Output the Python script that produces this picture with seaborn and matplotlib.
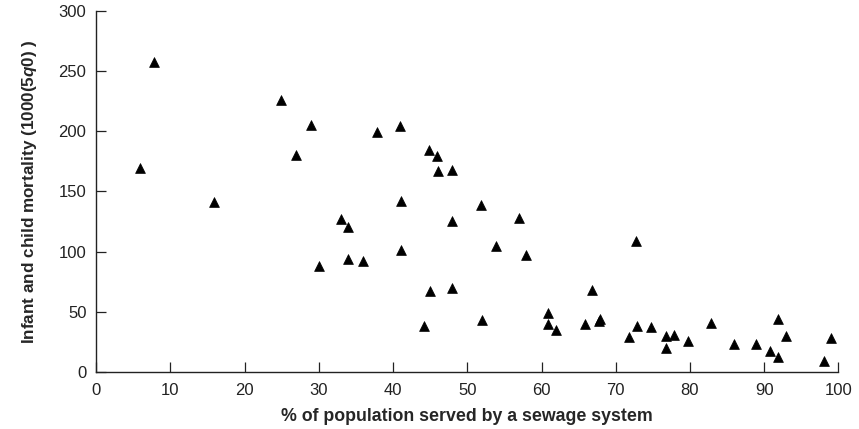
import matplotlib
matplotlib.use("Agg")
import matplotlib.pyplot as plt
import seaborn as sns
import pandas as pd

# % of population served by a sewage system
sewage_pct = [7.8, 24.9, 28.9, 26.9, 5.9, 15.9, 33.0, 33.9, 33.9, 30.0,
              35.9, 37.9, 40.9, 44.9, 45.9, 46.0, 47.9, 41.0, 51.9, 56.9,
              48.0, 53.9, 57.9, 41.0, 45.0, 48.0, 44.1, 52.0, 60.9, 60.9,
              61.9, 66.8, 65.8, 67.8, 67.9, 72.7, 71.8, 72.8, 74.7, 76.8,
              77.8, 76.8, 79.8, 82.8, 85.9, 88.9, 90.8, 91.9, 92.9, 91.9,
              98.0, 99.0]
# Infant and child mortality (1000 * 5q0)
mortality = [257, 226, 205, 180, 169, 141, 127, 120, 94, 88,
             92, 199, 204, 184, 179, 167, 168, 142, 139, 128,
             125, 105, 97, 101, 67, 70, 38, 43, 49, 40,
             35, 68, 40, 42, 44, 109, 29, 38, 37, 30,
             31, 20, 26, 41, 23, 23, 17, 44, 30, 12,
             9, 28]

x_ticks = [0, 10, 20, 30, 40, 50, 60, 70, 80, 90, 100]
y_ticks = [0, 50, 100, 150, 200, 250, 300]

df = pd.DataFrame({"sewage": sewage_pct, "mortality": mortality})

sns.set_style("ticks")
plt.rcParams["font.family"] = ["Liberation Sans", "DejaVu Sans"]
plt.rcParams["mathtext.fontset"] = "custom"
plt.rcParams["mathtext.rm"] = "Liberation Sans:bold"
plt.rcParams["mathtext.it"] = "Liberation Sans:italic:bold"
plt.rcParams["mathtext.bf"] = "Liberation Sans:bold"
plt.rcParams["mathtext.bfit"] = "Liberation Sans:italic:bold"

fig = plt.figure(figsize=(8.59, 4.29), dpi=100)
ax = fig.add_axes([0.112, 0.133, 0.864, 0.842])

sns.scatterplot(data=df, x="sewage", y="mortality", marker="^", color="black",
                s=50, edgecolor="black", linewidth=0.5, ax=ax, zorder=3)

ax.set_xlim(0, 100)
ax.set_ylim(0, 300)
ax.set_xticks(x_ticks)
ax.set_yticks(y_ticks)
ax.tick_params(axis="both", direction="in", length=7, width=0.9,
               labelsize=12, colors="#222222")
ax.tick_params(axis="x", pad=8)
ax.tick_params(axis="y", pad=7)
sns.despine(ax=ax)
for sp in ("left", "bottom"):
    ax.spines[sp].set_linewidth(1.0)
    ax.spines[sp].set_color("#222222")

ax.set_xlabel("% of population served by a sewage system",
              fontsize=12.8, fontweight="bold", labelpad=7)
ax.set_ylabel(r"Infant and child mortality (1000(5$\mathit{q0}$) )",
              fontsize=12.3, fontweight="bold", labelpad=14)

fig.savefig("out.png", dpi=100, facecolor="white")
